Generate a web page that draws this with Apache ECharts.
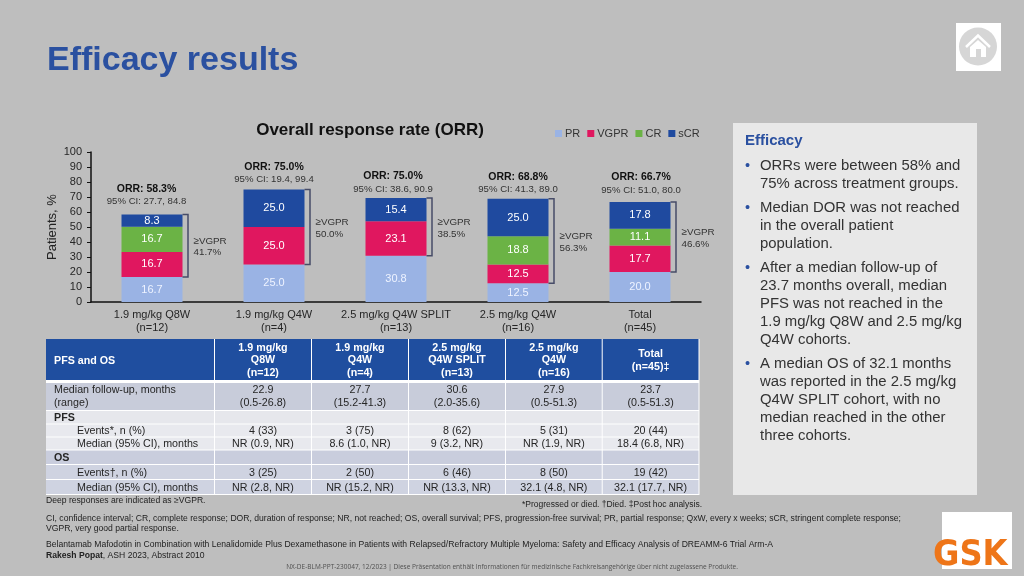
<!DOCTYPE html>
<html><head><meta charset="utf-8">
<style>html,body{margin:0;padding:0;background:#bebebe}#c{width:1024px;height:576px}</style>
<script src="https://cdn.jsdelivr.net/npm/echarts@6/dist/echarts.min.js"></script>
</head><body><div id="c"></div>
<script>
const categories = ['1.9 mg/kg Q8W\n(n=12)','1.9 mg/kg Q4W\n(n=4)','2.5 mg/kg Q4W SPLIT\n(n=13)','2.5 mg/kg Q4W\n(n=16)','Total\n(n=45)'];
const PR   = [16.7,25.0,30.8,12.5,20.0];
const VGPR = [16.7,25.0,23.1,12.5,17.7];
const CR   = [16.7,null,null,18.8,11.1];
const sCR  = [8.3,25.0,15.4,25.0,17.8];
const orrLabels = ['ORR: 58.3%','ORR: 75.0%','ORR: 75.0%','ORR: 68.8%','ORR: 66.7%'];
const ciLabels  = ['95% CI: 27.7, 84.8','95% CI: 19.4, 99.4','95% CI: 38.6, 90.9','95% CI: 41.3, 89.0','95% CI: 51.0, 80.0'];
const vgprLabels = ['41.7%','50.0%','38.5%','56.3%','46.6%'];
const tableColumns = [['1.9 mg/kg','Q8W','(n=12)'],['1.9 mg/kg','Q4W','(n=4)'],['2.5 mg/kg','Q4W SPLIT','(n=13)'],['2.5 mg/kg','Q4W','(n=16)'],['Total','(n=45)‡']];
const followUp = ['22.9','27.7','30.6','27.9','23.7'];
const followRange = ['(0.5-26.8)','(15.2-41.3)','(2.0-35.6)','(0.5-51.3)','(0.5-51.3)'];
const pfsEvents = ['4 (33)','3 (75)','8 (62)','5 (31)','20 (44)'];
const pfsMedian = ['NR (0.9, NR)','8.6 (1.0, NR)','9 (3.2, NR)','NR (1.9, NR)','18.4 (6.8, NR)'];
const osEvents = ['3 (25)','2 (50)','6 (46)','8 (50)','19 (42)'];
const osMedian = ['NR (2.8, NR)','NR (15.2, NR)','NR (13.3, NR)','32.1 (4.8, NR)','32.1 (17.7, NR)'];
const bullets = [
 ['ORRs were between 58% and','75% across treatment groups.'],
 ['Median DOR was not reached','in the overall patient','population.'],
 ['After a median follow-up of','23.7 months overall, median','PFS was not reached in the','1.9 mg/kg Q8W and 2.5 mg/kg','Q4W cohorts.'],
 ['A median OS of 32.1 months','was reported in the 2.5 mg/kg','Q4W SPLIT cohort, with no','median reached in the other','three cohorts.']
];

const FONT = '"Liberation Sans", Arial, sans-serif';
const BLUE = '#2a50a0';
const n0 = v => v == null ? 0 : v;
const totals = categories.map((_, i) => n0(PR[i]) + n0(VGPR[i]) + n0(CR[i]) + n0(sCR[i]));
const orrGap = [13, 10, 9, 9, 12];      // distance from bar top to the CI text centre, px
const orrShift = [-5.5, 0, -3, 0, 1];   // horizontal shift of the ORR text from the bar centre, px

const g = [];
const txt = (text, x, y, size, fill, opt) => g.push(Object.assign({type:'text', z:10, silent:true, style:{text, x, y, fill, font:(opt&&opt.bold?'bold ':'')+size+'px '+((opt&&opt.family)||FONT), align:(opt&&opt.align)||'left', verticalAlign:'middle'}}));
const rect = (x,y,w,h,fill,z) => g.push({type:'rect', z:z||5, silent:true, shape:{x,y,width:w,height:h}, style:{fill}});

// slide furniture
txt('Efficacy results', 47, 61, 34, BLUE, {bold:true});
rect(733,123,244,372,'#e8e8e8');
txt('Efficacy', 745, 141, 15, BLUE, {bold:true});
let yb = 166;
bullets.forEach(lines => {
  txt('•', 745, yb, 14.5, BLUE);
  lines.forEach(l => { txt(l, 760, yb, 14.9, '#333333'); yb += 18; });
  yb += 6;
});
// home icon
rect(956,23,45,48,'#ffffff');
g.push({type:'circle', z:6, silent:true, shape:{cx:978,cy:46.5,r:19}, style:{fill:'#d6d6d6'}});
g.push({type:'polyline', z:7, silent:true, shape:{points:[[966,47],[978,35.5],[990,47]]}, style:{stroke:'#ffffff',lineWidth:2.5,fill:'none'}});
g.push({type:'polygon', z:7, silent:true, shape:{points:[[978,40],[986,47],[986,57],[981,57],[981,49],[976,49],[976,57],[970,57],[970,47]]}, style:{fill:'#ffffff'}});
// GSK logo
rect(942,512,70,57,'#ffffff');
g.push({type:'text', z:10, silent:true, x:933, y:556, scaleX:0.92, style:{text:'GSK', x:0, y:0, font:'bold 35px "DejaVu Sans", sans-serif', fill:'#ee7518', align:'left', verticalAlign:'middle'}});

// table
const colX = [46,215,312,409,506,602.7,699.5];
const rowsY = [[383,411],[411,424.5],[424.5,437.5],[437.5,450.5],[450.5,465],[465,480],[480,495]];
const rowFill = ['#c8ccda','#e6e7ec','#e8e9ee','#e8e9ee','#c9cddd','#cfd3e1','#cfd3e1'];
rect(46,339,653.5,156,'#ffffff',4);
for (let c=0;c<6;c++) {
  rect(colX[c],339,colX[c+1]-colX[c]-1,41,'#1f4e9f');
  rowsY.forEach((r,i)=>rect(colX[c],r[0],colX[c+1]-colX[c]-1,r[1]-r[0]-1,rowFill[i]));
}
const TS = 10.7;
txt('PFS and OS', 54, 361, TS, '#ffffff', {bold:true});
tableColumns.forEach((h,c)=>{
  const cx=(colX[c+1]+colX[c+2])/2-0.5, ys=h.length===3?[348,360,373]:[354,367];
  h.forEach((t,i)=>txt(t,cx,ys[i],TS,'#ffffff',{bold:true,align:'center'}));
});
const T='#262626';
txt('Median follow-up, months',54,390.5,TS,T); txt('(range)',54,403.5,TS,T);
txt('PFS',54,418,TS,T,{bold:true});
txt('Events*, n (%)',77,431,TS,T); txt('Median (95% CI), months',77,444,TS,T);
txt('OS',54,458,TS,T,{bold:true});
txt('Events†, n (%)',77,473,TS,T); txt('Median (95% CI), months',77,488,TS,T);
[[followUp,390.5],[followRange,403.5],[pfsEvents,431],[pfsMedian,444],[osEvents,473],[osMedian,488]].forEach(([arr,y])=>{
  arr.forEach((t,c)=>txt(t,(colX[c+1]+colX[c+2])/2-0.5,y,TS,T,{align:'center'}));
});

// footnotes
const F='#222222', FS=8.6;
txt('Deep responses are indicated as ≥VGPR.',46,501,FS,F);
txt('*Progressed or died. †Died. ‡Post hoc analysis.',702,505,8.5,F,{align:'right'});
txt('CI, confidence interval; CR, complete response; DOR, duration of response; NR, not reached; OS, overall survival; PFS, progression-free survival; PR, partial response; QxW, every x weeks; sCR, stringent complete response;',46,518.5,FS,F);
txt('VGPR, very good partial response.',46,528.5,FS,F);
txt('Belantamab Mafodotin in Combination with Lenalidomide Plus Dexamethasone in Patients with Relapsed/Refractory Multiple Myeloma: Safety and Efficacy Analysis of DREAMM-6 Trial Arm-A',46,545,FS,F);
g.push({type:'text', z:10, silent:true, style:{x:46, y:555.5, verticalAlign:'middle', align:'left', fill:F, font:FS+'px '+FONT, text:'{b|Rakesh Popat}, ASH 2023, Abstract 2010', rich:{b:{font:'bold '+FS+'px '+FONT, fill:F}}}});
txt('NX-DE-BLM-PPT-230047, 12/2023 | Diese Präsentation enthält Informationen für medizinische Fachkreisangehörige über nicht zugelassene Produkte.',512,567,6.5,'#505050',{align:'center',family:'"Open Sans", sans-serif'});

const bar = (name,data,color) => ({name,type:'bar',stack:'a',data,barWidth:'50%',
  itemStyle:{color},
  label:{show:true,position:'inside',color:name==='PR'?'#eef3ff':'#ffffff',fontSize:11,fontFamily:FONT,
    formatter:p=>p.value==null?'':p.value.toFixed(1)}});

const chart = echarts.init(document.getElementById('c'),null,{renderer:'canvas'});
chart.setOption({
  animation:false,
  backgroundColor:'#bebebe',
  textStyle:{fontFamily:FONT},
  title:{text:'Overall response rate (ORR)',left:370,textAlign:'center',top:122,padding:0,textStyle:{fontSize:17,fontWeight:'bold',color:'#111',fontFamily:FONT}},
  legend:{data:['PR','VGPR','CR','sCR'],left:555,top:128,itemWidth:7,itemHeight:7,itemGap:7,padding:0,icon:'rect',
    textStyle:{fontSize:11,color:'#333',fontFamily:FONT,padding:[0,0,0,-2]}},
  grid:{left:91,right:323,top:152,bottom:274},
  xAxis:{type:'category',data:categories,axisTick:{show:false},
    axisLine:{lineStyle:{color:'#111',width:1.5}},
    axisLabel:{color:'#262626',fontSize:11,lineHeight:13,margin:6,fontFamily:FONT,interval:0}},
  yAxis:{type:'value',min:0,max:100,interval:10,name:'Patients, %',nameLocation:'middle',nameGap:32,nameMoveOverlap:false,
    nameTextStyle:{fontSize:13,color:'#222',fontFamily:FONT},
    splitLine:{show:false},
    axisLine:{show:true,lineStyle:{color:'#111',width:1.5}},
    axisTick:{show:true,length:4,lineStyle:{color:'#111'}},
    axisLabel:{color:'#262626',fontSize:11,margin:9,fontFamily:FONT}},
  series:[
    bar('PR',PR,'#9ab3e4'),bar('VGPR',VGPR,'#e0175f'),bar('CR',CR,'#6bb345'),bar('sCR',sCR,'#1f4a9f'),
    {type:'custom',name:'bracket',silent:true,z:5,clip:false,
     encode:{x:0,y:[1,2]},
     data:categories.map((_,i)=>[i,PR[i],totals[i]]),
     renderItem:(params,api)=>{
       const i=api.value(0), lo=api.coord([i,api.value(1)]), hi=api.coord([i,api.value(2)]);
       const hw=api.size([1,0])[0]/4, x0=lo[0]+hw, x1=x0+5.5, mid=(lo[1]+hi[1])/2;
       return {type:'group',children:[
         {type:'polyline',shape:{points:[[x0,hi[1]],[x1,hi[1]],[x1,lo[1]],[x0,lo[1]]]},style:{stroke:'#474c68',lineWidth:1.5,fill:'none'}},
         {type:'text',style:{text:'≥VGPR',x:x1+5.5,y:mid-4.5,fill:'#333',font:'9.8px '+FONT,align:'left',verticalAlign:'middle'}},
         {type:'text',style:{text:vgprLabels[i],x:x1+5.5,y:mid+7,fill:'#333',font:'9.8px '+FONT,align:'left',verticalAlign:'middle'}}
       ]};
     }},
    {type:'custom',name:'orr',silent:true,z:5,clip:false,
     encode:{x:0,y:1},
     data:categories.map((_,i)=>[i,totals[i]]),
     renderItem:(params,api)=>{
       const i=api.value(0), p=api.coord([i,api.value(1)]), yc=p[1]-orrGap[i], x=p[0]+orrShift[i];
       return {type:'group',children:[
         {type:'text',style:{text:orrLabels[i],x,y:yc-12.5,fill:'#111',font:'bold 10.5px '+FONT,align:'center',verticalAlign:'middle'}},
         {type:'text',style:{text:ciLabels[i],x,y:yc,fill:'#333',font:'9.6px '+FONT,align:'center',verticalAlign:'middle'}}
       ]};
     }}
  ],
  graphic:{elements:g}
});
</script></body></html>
